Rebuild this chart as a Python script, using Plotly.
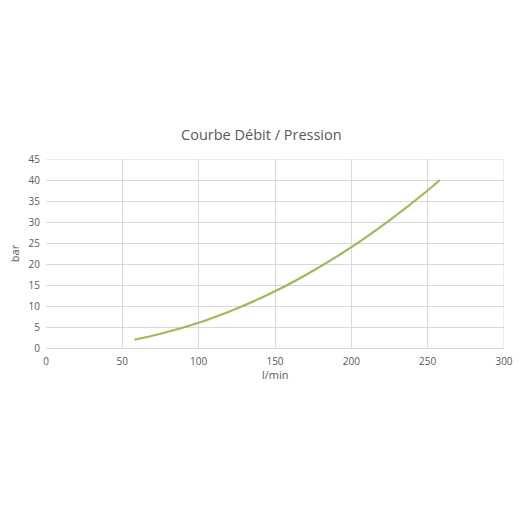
import plotly.graph_objects as go

flow = [58, 75, 100, 125, 150, 175, 200, 225, 250, 258]
pressure = [2.0, 3.4, 6.0, 9.4, 13.5, 18.4, 24.0, 30.4, 37.5, 40.0]

fig = go.Figure()
fig.add_trace(go.Scatter(x=flow, y=pressure, mode="lines",
                         line=dict(color="#9bbb59", width=2.2, shape="spline"),
                         showlegend=False, hoverinfo="skip"))

font_fam = "Open Sans, Liberation Sans, sans-serif"
fig.update_layout(
    width=528, height=528,
    margin=dict(l=46, r=24, t=159, b=180, autoexpand=False),
    paper_bgcolor="white", plot_bgcolor="white",
    title=dict(text="Courbe Débit / Pression", x=0.495, xref="container",
               y=1 - 135 / 528, yref="container", yanchor="middle",
               automargin=False,
               font=dict(family=font_fam, size=14.5, color="#595959")),
    xaxis=dict(range=[0, 300], tick0=0, dtick=50, showgrid=True,
               gridcolor="#d9d9d9", gridwidth=1, zeroline=False,
               showline=True, linecolor="#d9d9d9", automargin=False,
               ticks="", ticklabelstandoff=4,
               tickfont=dict(family=font_fam, size=10, color="#595959")),
    yaxis=dict(range=[0, 45], tick0=0, dtick=5, showgrid=True,
               gridcolor="#d9d9d9", gridwidth=1, zeroline=False,
               showline=False, ticks="", automargin=False, ticklabelstandoff=5,
               tickfont=dict(family=font_fam, size=10, color="#595959"),
               title=dict(text="bar", standoff=6,
                          font=dict(family=font_fam, size=11, color="#595959"))),
)
fig.add_annotation(text="l/min", xref="paper", yref="paper", x=0.5, y=-0.142,
                   yanchor="middle", showarrow=False,
                   font=dict(family=font_fam, size=11, color="#595959"))
fig.add_shape(type="line", xref="x", yref="y", x0=300, x1=300, y0=0, y1=45,
              line=dict(color="#d9d9d9", width=1))
fig.add_shape(type="line", xref="x", yref="y", x0=0, x1=300, y0=45, y1=45,
              line=dict(color="#d9d9d9", width=1))
fig.write_html("out.html", config={"displayModeBar": False},
               post_script="document.body.style.margin='0';")
